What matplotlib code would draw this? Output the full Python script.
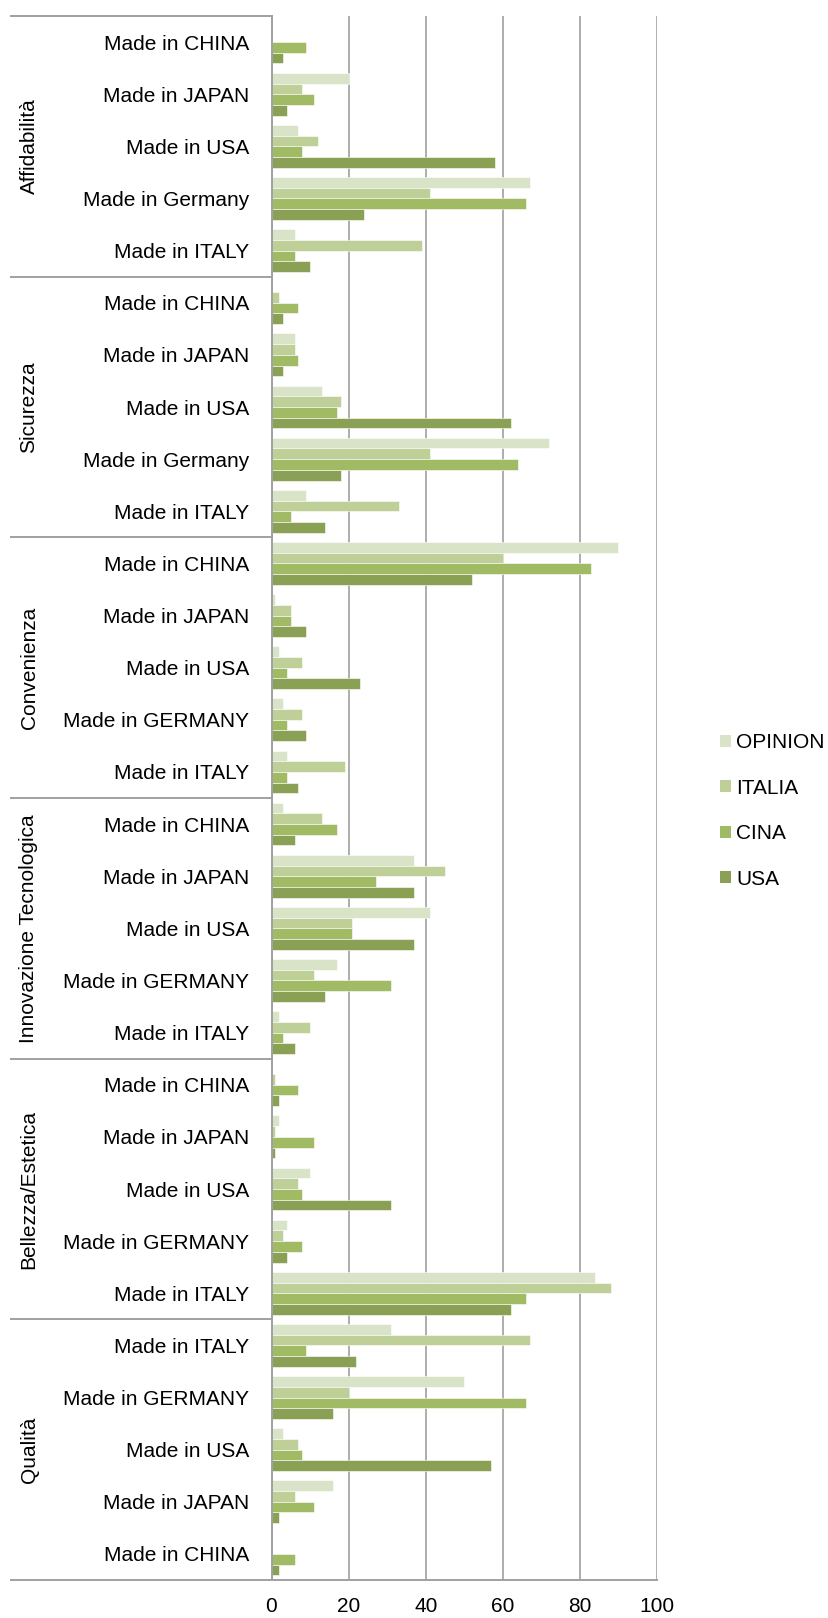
import matplotlib
matplotlib.use("Agg")
import matplotlib.pyplot as plt
from matplotlib.patches import Patch
import numpy as np

plt.rcParams['font.family'] = ['Liberation Sans', 'DejaVu Sans']

# Attribute groups (top to bottom) and their country items (top to bottom)
groups = ["Affidabilità", "Sicurezza", "Convenienza", "Innovazione Tecnologica",
          "Bellezza/Estetica", "Qualità"]
items = [
    ["Made in CHINA", "Made in JAPAN", "Made in USA", "Made in Germany", "Made in ITALY"],
    ["Made in CHINA", "Made in JAPAN", "Made in USA", "Made in Germany", "Made in ITALY"],
    ["Made in CHINA", "Made in JAPAN", "Made in USA", "Made in GERMANY", "Made in ITALY"],
    ["Made in CHINA", "Made in JAPAN", "Made in USA", "Made in GERMANY", "Made in ITALY"],
    ["Made in CHINA", "Made in JAPAN", "Made in USA", "Made in GERMANY", "Made in ITALY"],
    ["Made in ITALY", "Made in GERMANY", "Made in USA", "Made in JAPAN", "Made in CHINA"],
]

series = ["OPINION", "ITALIA", "CINA", "USA"]

opinion = [0, 20, 7, 67, 6,
           0, 6, 13, 72, 9,
           90, 1, 2, 3, 4,
           3, 37, 41, 17, 2,
           0, 2, 10, 4, 84,
           31, 50, 3, 16, 0]
italia = [0, 8, 12, 41, 39,
          2, 6, 18, 41, 33,
          60, 5, 8, 8, 19,
          13, 45, 21, 11, 10,
          1, 1, 7, 3, 88,
          67, 20, 7, 6, 0]
cina = [9, 11, 8, 66, 6,
        7, 7, 17, 64, 5,
        83, 5, 4, 4, 4,
        17, 27, 21, 31, 3,
        7, 11, 8, 8, 66,
        9, 66, 8, 11, 6]
usa = [3, 4, 58, 24, 10,
       3, 3, 62, 18, 14,
       52, 9, 23, 9, 7,
       6, 37, 37, 14, 6,
       2, 1, 31, 4, 62,
       22, 16, 57, 2, 2]

colors = ["#d8e3c7", "#bed098", "#a1bb65", "#8aa055"]
line_grey = "#a0a0a0"

W, H = 829, 1618
fig = plt.figure(figsize=(W / 100, H / 100), dpi=100)
left_px, right_px, top_px, bottom_px = 271.5, 657, 16, 1580
ax = fig.add_axes([left_px / W, 1 - bottom_px / H,
                   (right_px - left_px) / W, (bottom_px - top_px) / H])

n_items = sum(len(g) for g in items)
y = np.arange(n_items)
bh = 0.205
values = [opinion, italia, cina, usa]
for k, (name, vals, c) in enumerate(zip(series, values, colors)):
    ax.barh(y + (k - 1.5) * bh, vals, height=bh, color=c,
            edgecolor="white", linewidth=0.4, label=name, zorder=3)

ax.set_xlim(0, 100)
ax.set_ylim(n_items - 0.5, -0.5)
ax.set_xticks([0, 20, 40, 60, 80, 100])
ax.tick_params(axis='x', length=0, pad=12, labelsize=15)
labels = [lab for g in items for lab in g]
ax.set_yticks(y)
ax.set_yticklabels(labels, fontsize=15)
ax.tick_params(axis='y', length=0, pad=16)

ax.xaxis.grid(True, color=line_grey, linewidth=1.2, zorder=0)
ax.set_axisbelow(True)
for s in ["top", "right"]:
    ax.spines[s].set_visible(False)
for s in ["left", "bottom"]:
    ax.spines[s].set_color(line_grey)
    ax.spines[s].set_linewidth(1.4)
    ax.spines[s].set_zorder(4)

# Group separators and rotated group names on the left
trans = ax.get_yaxis_transform()
x_line = (11 - left_px) / (right_px - left_px)
x_name = (29 - left_px) / (right_px - left_px)
start = 0
for gi, g in enumerate(groups):
    n = len(items[gi])
    ax.plot([x_line, 0], [start - 0.5, start - 0.5], transform=trans,
            color=line_grey, linewidth=1.4, clip_on=False)
    ax.text(x_name, start + (n - 1) / 2, g, transform=trans, rotation=90,
            ha='center', va='center', fontsize=15)
    start += n
ax.plot([x_line, 0], [start - 0.5, start - 0.5], transform=trans,
        color=line_grey, linewidth=1.4, clip_on=False)

handles = [Patch(facecolor=c, edgecolor='none', label=s) for s, c in zip(series, colors)]
fig.legend(handles=handles, loc='center left',
           bbox_to_anchor=(712 / W, 1 - 811 / H), frameon=False,
           fontsize=15, handlelength=0.5, handleheight=0.5,
           handletextpad=0.25, labelspacing=1.27, borderaxespad=0)

fig.savefig("out.png", dpi=100, facecolor="white")
